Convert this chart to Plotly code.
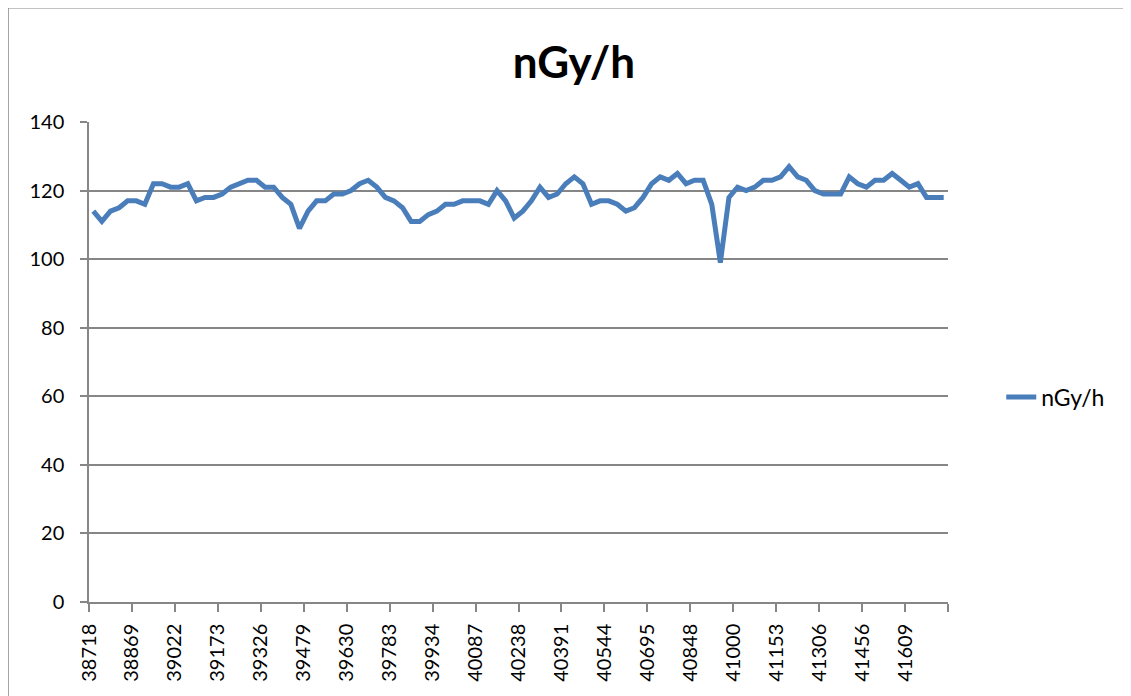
import pandas as pd
import plotly.graph_objects as go

# monthly dose rate readings, Jan 2006 .. Apr 2014 (Excel date serials as categories)
months = pd.date_range("2006-01-01", periods=100, freq="MS")
serials = [(d - pd.Timestamp("1899-12-30")).days for d in months]

dose_rate = [
    114, 111, 114, 115, 117, 117, 116, 122, 122, 121,
    121, 122, 117, 118, 118, 119, 121, 122, 123, 123,
    121, 121, 118, 116, 109, 114, 117, 117, 119, 119,
    120, 122, 123, 121, 118, 117, 115, 111, 111, 113,
    114, 116, 116, 117, 117, 117, 116, 120, 117, 112,
    114, 117, 121, 118, 119, 122, 124, 122, 116, 117,
    117, 116, 114, 115, 118, 122, 124, 123, 125, 122,
    123, 123, 116, 99, 118, 121, 120, 121, 123, 123,
    124, 127, 124, 123, 120, 119, 119, 119, 124, 122,
    121, 123, 123, 125, 123, 121, 122, 118, 118, 118,
]

label_every = 5
idx = list(range(len(serials)))
tick_pos = [i - 0.5 for i in idx[::label_every]] + [len(idx) - 0.5]
tick_text = [str(s) for s in serials[::label_every]] + [""]

grey = "#868686"
font = "Lato, 'Open Sans', sans-serif"

fig = go.Figure(go.Scatter(
    x=idx,
    y=dose_rate,
    mode="lines",
    name="nGy/h",
    line=dict(color="#4A7EBB", width=5),
    customdata=serials,
    hovertemplate="%{customdata}: %{y}<extra></extra>",
))

# page body adds 8px, so the figure is 8px smaller and margins shifted
fig.update_layout(
    width=1123,
    height=688,
    margin=dict(l=81, r=183, t=114, b=94),
    paper_bgcolor="white",
    plot_bgcolor="white",
    font=dict(family=font, size=20, color="black"),
    title=dict(text="<b>nGy/h</b>", x=0.504, xanchor="center", y=0.921, yanchor="middle",
               font=dict(size=44, family=font, color="black")),
    showlegend=True,
    legend=dict(x=1.062, y=0.427, xanchor="left", yanchor="middle",
                font=dict(size=23), bgcolor="rgba(0,0,0,0)"),
    xaxis=dict(
        range=[-0.5, len(idx) - 0.5],
        tickmode="array", tickvals=tick_pos, ticktext=tick_text,
        tickangle=-90, showgrid=False, zeroline=False,
        showline=True, linecolor=grey, linewidth=1.5,
        ticks="outside", ticklen=8, tickcolor=grey, tickwidth=1.5,
        ticklabelstandoff=4,
    ),
    yaxis=dict(
        range=[0, 140], dtick=20, showgrid=True, gridcolor=grey, gridwidth=1.5,
        zeroline=False, showline=True, linecolor=grey, linewidth=1.5,
        ticks="outside", ticklen=7, tickcolor=grey, tickwidth=1.5,
        ticklabelstandoff=12,
    ),
)

# outer chart border like the spreadsheet chart frame
fig.add_shape(type="rect", xref="paper", yref="paper",
              x0=-0.094, x1=1.2095, y0=-0.3, y1=1.2375,
              line=dict(color=grey, width=1))

fig.write_html("out.html")
